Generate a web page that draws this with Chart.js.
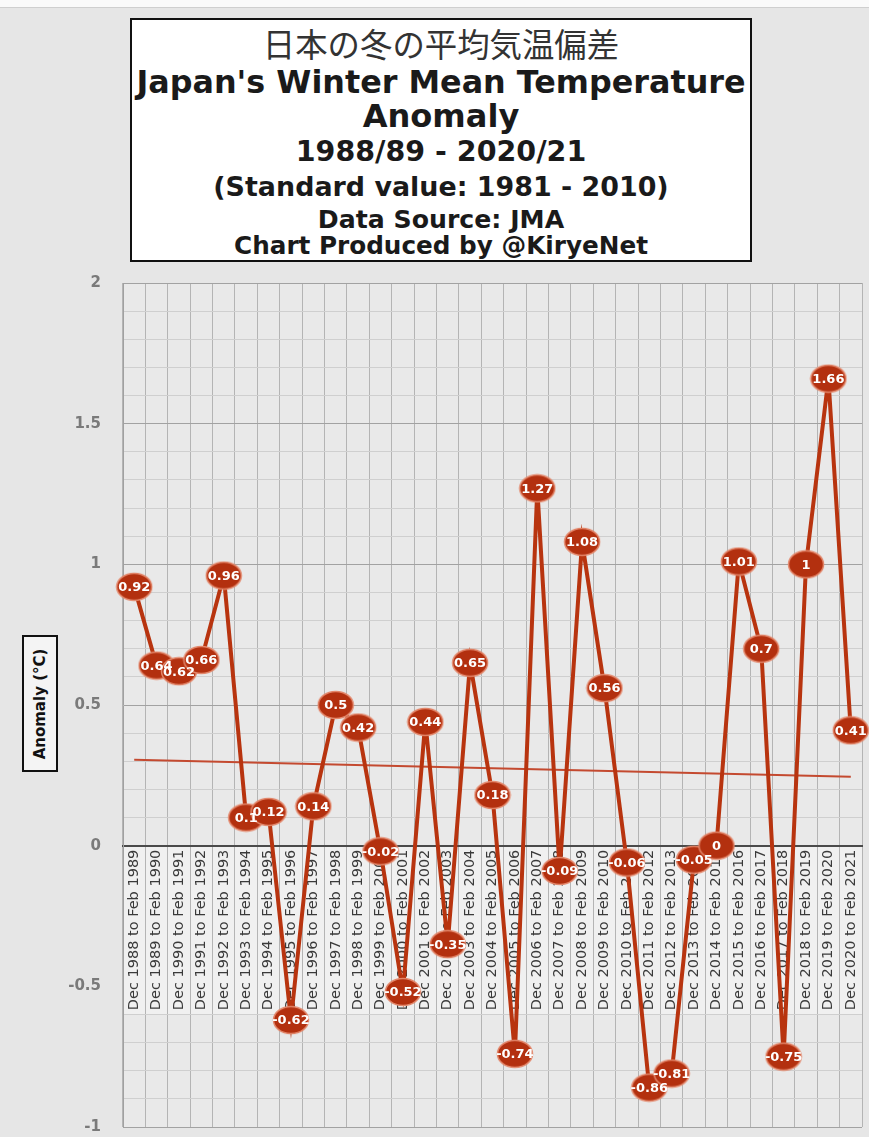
<!DOCTYPE html>
<html>
<head>
<meta charset="utf-8">
<script src="https://cdn.jsdelivr.net/npm/chart.js@4.4.1/dist/chart.umd.min.js"></script>
<style>
  body { margin: 0; background: #e6e6e6; }
  #page { position: relative; width: 869px; height: 1137px; overflow: hidden; background: #e6e6e6; }
  #topstrip { position: absolute; left: 0; top: 0; width: 869px; height: 7px; background: #fafafa; border-bottom: 1px solid #cfcfcf; }
  #titlebox { position: absolute; left: 130px; top: 18px; width: 618px; height: 240px; background: #fff; border: 2px solid #111; z-index: 2; }
  #titlebox div { position: absolute; left: 0; width: 100%; text-align: center; white-space: nowrap; font-family: "DejaVu Sans", sans-serif; color: #1a1a1a; line-height: 1; }
  #ytitle { position: absolute; left: 22px; top: 635px; width: 32px; height: 133px; border: 2px solid #111; background: #f4f4f4; z-index: 2; }
  #ytitle span { position: absolute; left: 50%; top: 50%; transform: translate(-50%, -50%) rotate(-90deg); white-space: nowrap; font-family: "DejaVu Sans", sans-serif; font-size: 15px; font-weight: 600; color: #111; }
  #wrap { position: absolute; left: 0; top: 0; width: 881px; height: 1146px; }
</style>
</head>
<body>
<div id="page">
  <div id="topstrip"></div>
  <div id="titlebox"></div>
  <div id="ytitle"><span>Anomaly (°C)</span></div>
  <div id="wrap"><canvas id="chart"></canvas></div>
</div>
<script>
const titleLines = [
  '日本の冬の平均気温偏差',
  "Japan's Winter Mean Temperature",
  'Anomaly',
  '1988/89  - 2020/21',
  '(Standard value: 1981 - 2010)',
  'Data Source: JMA',
  'Chart Produced by @KiryeNet'
];

const categories = [
  'Dec 1988 to Feb 1989', 'Dec 1989 to Feb 1990', 'Dec 1990 to Feb 1991', 'Dec 1991 to Feb 1992',
  'Dec 1992 to Feb 1993', 'Dec 1993 to Feb 1994', 'Dec 1994 to Feb 1995', 'Dec 1995 to Feb 1996',
  'Dec 1996 to Feb 1997', 'Dec 1997 to Feb 1998', 'Dec 1998 to Feb 1999', 'Dec 1999 to Feb 2000',
  'Dec 2000 to Feb 2001', 'Dec 2001 to Feb 2002', 'Dec 2002 to Feb 2003', 'Dec 2003 to Feb 2004',
  'Dec 2004 to Feb 2005', 'Dec 2005 to Feb 2006', 'Dec 2006 to Feb 2007', 'Dec 2007 to Feb 2008',
  'Dec 2008 to Feb 2009', 'Dec 2009 to Feb 2010', 'Dec 2010 to Feb 2011', 'Dec 2011 to Feb 2012',
  'Dec 2012 to Feb 2013', 'Dec 2013 to Feb 2014', 'Dec 2014 to Feb 2015', 'Dec 2015 to Feb 2016',
  'Dec 2016 to Feb 2017', 'Dec 2017 to Feb 2018', 'Dec 2018 to Feb 2019', 'Dec 2019 to Feb 2020',
  'Dec 2020 to Feb 2021'
];

const anomaly = [
  0.92, 0.64, 0.62, 0.66, 0.96, 0.1, 0.12, -0.62, 0.14, 0.5, 0.42,
  -0.02, -0.52, 0.44, -0.35, 0.65, 0.18, -0.74, 1.27, -0.09, 1.08, 0.56,
  -0.06, -0.86, -0.81, -0.05, 0, 1.01, 0.7, -0.75, 1, 1.66, 0.41
];

// trend line end points
const trendStart = 0.305;
const trendEnd = 0.245;

const yTickLabels = [-1, -0.5, 0, 0.5, 1, 1.5, 2];

// title box text, each line fitted to the width it has in the picture
const titleStyle = [
  { top: 7, weight: 400, width: 356, color: '#333', family: '"Noto Sans CJK JP", sans-serif' },
  { top: 46, weight: 700, width: 610 },
  { top: 80, weight: 700, width: 157 },
  { top: 118, weight: 700, width: 300 },
  { top: 154, weight: 700, width: 456 },
  { top: 187, weight: 600, width: 246 },
  { top: 214, weight: 600, width: 414 }
];
const box = document.getElementById('titlebox');
const mctx = document.createElement('canvas').getContext('2d');
titleLines.forEach((t, i) => {
  const s = titleStyle[i];
  const fam = s.family || '"DejaVu Sans", sans-serif';
  mctx.font = s.weight + ' 40px ' + fam;
  const size = 40 * s.width / mctx.measureText(t).width;
  const d = document.createElement('div');
  d.textContent = t;
  d.style.top = s.top + 'px';
  d.style.fontSize = size.toFixed(1) + 'px';
  d.style.fontWeight = s.weight;
  d.style.fontFamily = fam;
  if (s.color) d.style.color = s.color;
  box.appendChild(d);
});

// elliptical marker
const marker = document.createElement('canvas');
marker.width = 38;
marker.height = 30;
const mk = marker.getContext('2d');
mk.beginPath();
mk.ellipse(19, 15, 17.5, 13.5, 0, 0, Math.PI * 2);
mk.fillStyle = '#b3300f';
mk.fill();
mk.lineWidth = 1.5;
mk.strokeStyle = '#e3876b';
mk.stroke();

const trendData = anomaly.map(() => null);
trendData[0] = trendStart;
trendData[trendData.length - 1] = trendEnd;

const bgPlugin = {
  id: 'bg',
  beforeDraw(chart) {
    const { ctx, chartArea: a, scales } = chart;
    ctx.save();
    ctx.fillStyle = '#e9e9e9';
    ctx.fillRect(a.left, a.top, a.right - a.left, a.bottom - a.top);
    const y0 = scales.y.getPixelForValue(0);
    const y1 = scales.y.getPixelForValue(-0.6);
    ctx.fillStyle = '#f0f0f0';
    ctx.fillRect(a.left, y0, a.right - a.left, y1 - y0);
    ctx.restore();
  }
};

const labelPlugin = {
  id: 'pointLabels',
  afterDatasetsDraw(chart) {
    const ctx = chart.ctx;
    const meta = chart.getDatasetMeta(0);
    ctx.save();
    ctx.font = 'bold 13px "DejaVu Sans", sans-serif';
    ctx.fillStyle = '#ffffff';
    ctx.textAlign = 'center';
    ctx.textBaseline = 'middle';
    meta.data.forEach((pt, i) => {
      ctx.fillText(String(anomaly[i]), pt.x, pt.y + 1);
    });
    ctx.restore();
  }
};

const isMajor = v => Math.abs(v * 2 - Math.round(v * 2)) < 1e-6;

new Chart(document.getElementById('chart'), {
  type: 'line',
  data: {
    labels: categories,
    datasets: [{
      label: 'Anomaly',
      data: anomaly,
      borderColor: '#b8340f',
      borderWidth: 4,
      pointStyle: marker,
      pointRadius: 15,
      order: 1
    }, {
      label: 'Trend',
      data: trendData,
      spanGaps: true,
      borderColor: '#c44a30',
      borderWidth: 2,
      pointRadius: 0,
      order: 2
    }]
  },
  options: {
    responsive: true,
    maintainAspectRatio: false,
    animation: false,
    events: [],
    layout: { padding: { top: 283, right: 7, bottom: 10, left: 0 } },
    plugins: {
      legend: { display: false },
      tooltip: { enabled: false },
      title: { display: false }
    },
    scales: {
      x: {
        type: 'category',
        position: { y: 0 },
        offset: true,
        afterFit(scale) {
          scale.paddingLeft = 0;
          scale.paddingRight = 0;
          scale.paddingTop = 0;
          scale.paddingBottom = 0;
        },
        grid: { offset: true, color: '#b4b4b4', lineWidth: 1, drawTicks: false },
        border: { color: '#4a4a4a', width: 2 },
        ticks: {
          autoSkip: false,
          minRotation: 90,
          maxRotation: 90,
          padding: 4,
          color: '#3a3a3a',
          font: { family: '"DejaVu Sans", sans-serif', size: 14.5 }
        }
      },
      y: {
        min: -1,
        max: 2,
        afterFit(scale) {
          scale.width = 123;
          scale.paddingTop = 0;
          scale.paddingBottom = 0;
        },
        grid: {
          drawTicks: false,
          lineWidth: 1,
          color(c) {
            const v = Math.round(c.tick.value * 10) / 10;
            if (v < -0.05 && v > -0.55) return 'rgba(0,0,0,0)';
            return isMajor(v) ? '#a2a2a2' : '#cfcfcf';
          }
        },
        border: { color: '#a0a0a0', width: 1 },
        ticks: {
          stepSize: 0.1,
          padding: 22,
          color: '#7a7a7a',
          font: { family: '"DejaVu Sans", sans-serif', size: 15, weight: 'bold' },
          callback(value) {
            const v = Math.round(value * 10) / 10;
            return yTickLabels.includes(v) ? String(v) : '';
          }
        }
      }
    }
  },
  plugins: [bgPlugin, labelPlugin]
});
</script>
</body>
</html>
